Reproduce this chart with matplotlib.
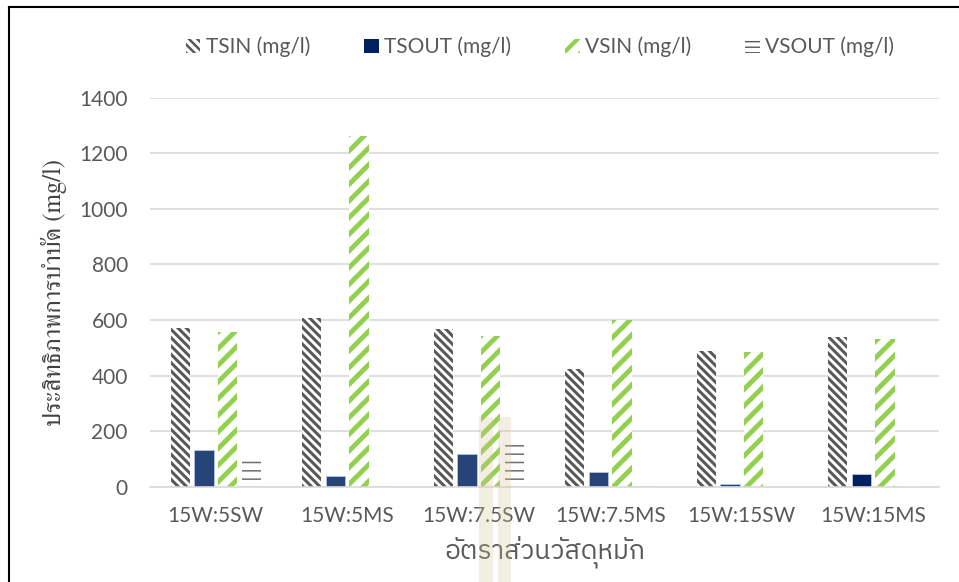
import matplotlib

matplotlib.use("Agg")

import matplotlib.pyplot as plt
import numpy as np
from matplotlib import font_manager
from matplotlib.ft2font import FT2Font
from matplotlib.lines import Line2D
from matplotlib.patches import Patch, Rectangle


categories = ["15W:5SW", "15W:5MS", "15W:7.5SW", "15W:7.5MS", "15W:15SW", "15W:15MS"]
tsin = [570, 608, 568, 424, 489, 540]
tsout = [133, 40, 119, 54, 8, 47]
vsin = [557, 1263, 542, 600, 485, 532]
vsout = [108, 18, 165, 20, 0, 5]
series_names = ["TSIN (mg/l)", "TSOUT (mg/l)", "VSIN (mg/l)", "VSOUT (mg/l)"]
y_ticks = [0, 200, 400, 600, 800, 1000, 1200, 1400]

BACK = chr(92)  # backslash, for hatch strings


def thai_fonts():
    names = []
    for f in font_manager.fontManager.ttflist:
        try:
            cmap = FT2Font(f.fname).get_charmap()
        except Exception:
            continue
        if 0x0E1B in cmap and f.name not in names:
            names.append(f.name)
    return names


def pick(names, prefer):
    for p in prefer:
        for n in names:
            if p.lower() in n.lower():
                return n
    return names[0] if names else "DejaVu Sans"


def set_hlw(patches, lw):
    for p in patches:
        if hasattr(p, "set_hatch_linewidth"):
            p.set_hatch_linewidth(lw)


def main():
    thai = thai_fonts()
    thai_serif = pick(thai, ["Serif", "Norasi", "Kinnari", "Garuda", "Loma"])
    thai_sans = pick(thai, ["Sans Thai", "Loma", "Waree", "Sans"])

    plt.rcParams.update({"font.family": ["Lato", "DejaVu Sans"], "font.size": 15})
    text_col = "#595959"

    fig = plt.figure(figsize=(9.59, 5.82), dpi=100)
    ax = fig.add_axes([150 / 959, 1 - 486.7 / 582, 789 / 959, 389 / 582])

    x = np.arange(len(categories))
    w = 0.148
    step = 0.18

    b1 = ax.bar(x - 1.5 * step, tsin, w, facecolor="white", edgecolor="#595959",
                hatch=BACK * 4, linewidth=0)
    set_hlw(b1, 2.2)
    tsout_cols = ["#264478"] * 5 + ["#002060"]
    ax.bar(x - 0.5 * step, tsout, w, color=tsout_cols, edgecolor="#b4c7e7", linewidth=0.6)
    b3 = ax.bar(x + 0.5 * step, vsin, w, facecolor="white", edgecolor="#92d050",
                hatch="//", linewidth=0)
    set_hlw(b3, 3.5)
    vsout_cols = ["#6f6f6f"] * 5 + ["#e0e0e0"]
    b4 = ax.bar(x + 1.5 * step, vsout, w, facecolor="white", edgecolor=vsout_cols,
                hatch="--", linewidth=0)
    set_hlw(b4, 1.1)

    ax.set_xlim(-0.5, len(categories) - 0.5)
    ax.set_ylim(0, 1400)
    ax.set_yticks(y_ticks)
    ax.set_xticks(x)
    ax.set_xticklabels(categories)
    ax.yaxis.grid(True, color="#d9d9d9", lw=1.2)
    ax.set_axisbelow(True)
    for s in ["top", "right", "left"]:
        ax.spines[s].set_visible(False)
    ax.spines["bottom"].set_color("#d9d9d9")
    ax.spines["bottom"].set_linewidth(1.2)
    ax.tick_params(axis="both", length=0, colors=text_col, labelsize=15)
    ax.tick_params(axis="x", pad=14)
    ax.tick_params(axis="y", pad=16)

    ax.set_ylabel("ประสิทธิภาพการบำบัด (mg/l)", family=[thai_serif, "DejaVu Serif"],
                  fontsize=18, color="#404040", labelpad=9)
    ax.set_xlabel("อัตราส่วนวัสดุหมัก", family=[thai_sans, "DejaVu Sans"],
                  fontsize=19, color=text_col, labelpad=7)

    handles = [
        Patch(facecolor="white", edgecolor="#595959", hatch=BACK * 4, linewidth=0),
        Patch(facecolor="#002060", edgecolor="#002060", linewidth=0),
        Patch(facecolor="white", edgecolor="#92d050", hatch="//", linewidth=0),
        Patch(facecolor="white", edgecolor="#595959", hatch="---", linewidth=0),
    ]
    leg = fig.legend(handles, series_names, loc="center", ncol=4, frameon=False,
                     bbox_to_anchor=(540 / 959, 1 - 47 / 582), fontsize=15,
                     handlelength=0.7, handleheight=0.7, handletextpad=0.25,
                     columnspacing=2.6, labelcolor=text_col)
    lp = leg.get_patches()
    set_hlw(lp[0:1], 1.8)
    set_hlw(lp[2:3], 3.0)
    set_hlw(lp[3:4], 1.0)

    # faint watermark from the source page
    for x0, x1 in [(479, 493), (498, 511)]:
        fig.add_artist(Rectangle((x0 / 959, 0), (x1 - x0) / 959, 165 / 582,
                                 transform=fig.transFigure, facecolor="#d6c09a",
                                 edgecolor="none", alpha=0.28, zorder=5))

    # outer frame (only top and left visible)
    fig.add_artist(Line2D([8.5 / 959, 1], [1 - 7 / 582, 1 - 7 / 582],
                          transform=fig.transFigure, color="black", lw=1.5))
    fig.add_artist(Line2D([8.5 / 959, 8.5 / 959], [0, 1 - 7 / 582],
                          transform=fig.transFigure, color="black", lw=1.5))

    fig.savefig("out.png", dpi=100)


if __name__ == "__main__":
    main()
